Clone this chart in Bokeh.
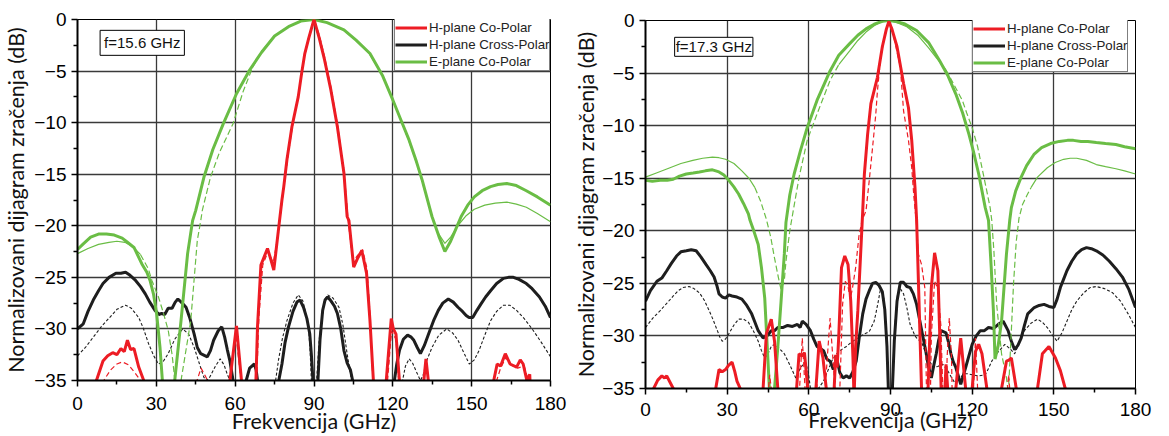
from bokeh.plotting import figure
from bokeh.layouts import row, column
from bokeh.models import Legend, LegendItem, Label, FixedTicker, Range1d
from bokeh.embed import file_html
from bokeh.resources import INLINE

# ---------------- data (angle, dB) ----------------
# Left panel: f = 15.6 GHz
left_e_meas = [(0,-22.3),(2,-21.8),(5,-21.1),(8,-20.8),(11,-20.8),(14,-20.9),(17,-21.2),(19,-21.6),(21.5,-22.1),(24.5,-23.7),(26.4,-24.5),(27.6,-25.3),(28.9,-26.6),(30.1,-28.5),(31.4,-31.8),(32.3,-35),(34.5,-40),(37,-35),(39.4,-29.2),(41.9,-22.7),(43.8,-19.5),(45,-18.5),(48.1,-15.3),(51.5,-12.6),(55.5,-10.1),(60.5,-7.2),(65.5,-4.9),(70,-3.2),(75,-1.6),(80.3,-0.7),(85,-0.15),(90,0),(95,-0.3),(101.4,-1.0),(106,-2.0),(111.3,-3.3),(116,-5.4),(120,-7.8),(123,-9.7),(126.2,-11.7),(129,-13.8),(131.2,-15.6),(134.9,-19.1),(137.5,-21.0),(139.8,-22.5),(142,-21.5),(144,-20.3),(146,-19.1),(148.5,-18.0),(151,-17.2),(154,-16.6),(157.2,-16.2),(160,-16.0),(163.4,-15.9),(167,-16.1),(170.8,-16.6),(175,-17.2),(180,-18.0)]
left_e_sim = [(0,-22.7),(4,-22.2),(8,-21.8),(12,-21.6),(15,-21.5),(18,-21.6),(21,-22.0),(24,-22.8),(27,-24.2),(28.3,-25.3),(30.8,-26.9),(32.5,-28.3),(34.5,-30.1),(36,-32.5),(37.5,-36),(39.4,-35),(41,-32.5),(43.1,-29.2),(45.6,-21.4),(46.9,-19.5),(47.5,-18.5),(50.6,-15.3),(54,-12.9),(59.2,-10.1),(63,-7.0),(66.7,-4.6),(70,-3.1),(75,-1.6),(80,-0.7),(85,-0.15),(90,0),(95,-0.3),(101,-1.0),(106,-2.0),(111,-3.3),(116,-5.4),(120,-7.8),(123,-9.7),(126,-11.7),(129,-13.9),(131.5,-16.0),(134.5,-18.8),(137,-20.6),(139.8,-21.7),(142,-21.1),(145,-19.9),(148,-19.0),(151,-18.4),(155,-18.0),(159,-17.8),(163.4,-17.7),(167,-17.9),(170.8,-18.2),(175,-18.8),(180,-19.6)]
left_hco_meas = [(0,-40),(6,-40),(7.2,-35),(9.7,-33.1),(11.5,-32.6),(13.4,-32.3),(15,-32.5),(16.5,-31.9),(17.8,-32.2),(19,-31.1),(20.2,-32.0),(21.5,-31.9),(23.3,-33.7),(25.2,-35),(26,-40),(56.5,-40),(58,-35),(58.6,-33.7),(60.5,-29.7),(62.4,-35),(63,-40),(67,-40),(67.9,-35),(68.5,-29.8),(69.8,-23.8),(72.3,-22.2),(73.5,-23.2),(74.7,-24.3),(76.6,-20.1),(77.8,-17.5),(78.5,-16.2),(79.7,-13.6),(81.6,-10.4),(84,-7.5),(85.3,-5.2),(86.5,-3.3),(88,-1.8),(90,0),(92,-1.8),(94,-3.9),(96.4,-6.8),(98.9,-10.4),(101.4,-14.9),(102.6,-19.1),(103.3,-19.5),(105.1,-24),(106.5,-23.2),(108.2,-22.4),(110,-24.6),(111.3,-29.2),(112.6,-35),(113.5,-40),(116.5,-40),(117.5,-35),(119.4,-29),(120.2,-30.0),(121.2,-30.5),(122.5,-35),(123.5,-40),(131,-40),(131.8,-35),(132.6,-32.9),(133.5,-35),(134.3,-40),(157.5,-40),(158.4,-35),(159.7,-33.4),(161,-33.6),(162.8,-32.4),(164.6,-33.4),(167.1,-33.7),(168.5,-33.0),(169.6,-33.4),(171,-35),(172.1,-34.4),(173,-40),(180,-40)]
left_hco_sim = [(0,-40),(9,-40),(10,-35),(12.5,-34),(15,-33.4),(17.1,-33.2),(19.5,-33.5),(22,-34.3),(24,-35),(25,-40),(44.5,-40),(45.5,-35),(47,-33.8),(48.5,-34.5),(49.5,-35),(50.5,-40),(57,-40),(58,-35),(60.3,-30.5),(62.2,-35),(63,-40),(67.5,-40),(68.2,-35),(69,-29),(70.5,-23.8),(72.5,-22.5),(74.5,-23.6),(76.6,-20.5),(78,-17.3),(80,-13.4),(82,-10.0),(84.2,-7.2),(85.5,-4.8),(86.8,-3.0),(88.2,-1.5),(90,0),(92,-1.5),(94,-3.6),(96.4,-6.5),(99,-10.3),(101.4,-14.6),(103,-19.5),(104.8,-23.5),(106.5,-22.9),(108.5,-22.3),(110.2,-24.2),(111.4,-29.0),(112.4,-35),(113,-40),(117,-40),(118,-35),(119.5,-30.2),(121.2,-31),(122.2,-35),(123,-40),(158.5,-40),(159.5,-35),(161,-33.8),(163,-32.8),(165,-33.5),(167.5,-33.8),(170,-33.6),(171.5,-35),(172,-40),(180,-40)]
left_hx_meas = [(0,-30.0),(2.2,-29.5),(4,-28.3),(6,-27.2),(8,-26.3),(9.7,-25.6),(12,-25.0),(14.6,-24.6),(16.5,-24.6),(18.3,-24.5),(20,-24.8),(22.1,-25.3),(24,-25.9),(25.8,-26.6),(27.5,-27.4),(29.5,-28.2),(31,-28.6),(32,-28.5),(33.2,-28.6),(34.5,-28.0),(36,-28.0),(37.2,-27.4),(38.2,-27.1),(39.5,-27.4),(41.3,-27.9),(42.8,-29.0),(44.4,-30.5),(45.6,-31.8),(46.9,-32.4),(49.4,-32.7),(50.6,-32.1),(51.8,-31.1),(53.5,-30.2),(54.9,-29.8),(56,-30.8),(57,-32),(58,-33.1),(59.2,-35),(60,-40),(63.5,-40),(64.2,-35),(65.5,-33.8),(67.3,-33.4),(68,-34),(68.5,-35),(69,-40),(75.8,-40),(76.6,-35),(77.8,-33.4),(79,-31.3),(80.3,-29.8),(82,-28.3),(83.5,-27.4),(84.7,-27.2),(86,-27.9),(87.3,-29.0),(88.4,-30.5),(89,-32.5),(89.6,-35),(90.5,-40),(91,-40),(91.5,-35),(92.3,-31),(93.3,-28.2),(94.2,-27.2),(95.2,-26.9),(96.5,-27.3),(97.8,-27.8),(98.9,-28.5),(100.2,-30),(101.4,-32.1),(102.6,-33.3),(103.9,-34),(104.7,-35),(105.5,-40),(119.8,-40),(120.6,-35),(121.5,-33.4),(122.5,-32.1),(124,-31.0),(125.6,-30.6),(127,-30.8),(128,-31.1),(129.3,-31.8),(130.5,-32.4),(132,-31.6),(133.6,-30.5),(135.5,-29.2),(137.3,-28.2),(139,-27.5),(141.1,-27.1),(143,-27.4),(144.8,-27.9),(146.5,-28.3),(147.9,-28.7),(149,-28.9),(150.4,-28.9),(152,-28.2),(153.5,-27.6),(155.3,-26.9),(157.2,-26.3),(159.5,-25.6),(162.1,-25.1),(164,-25.0),(165.9,-25.0),(168,-25.2),(170.8,-25.6),(173,-26.1),(175.8,-26.9),(178,-27.8),(180,-28.9)]
left_hx_sim = [(0,-32.6),(3,-31.8),(6,-30.8),(9,-29.8),(12.2,-28.9),(15,-28.1),(18.3,-27.7),(20.5,-28.0),(23.3,-28.9),(25,-29.9),(27,-31.4),(29,-32.6),(30.8,-33.4),(32.5,-33.2),(34.5,-32.4),(37,-31.0),(40,-30.0),(42.3,-30.5),(44.4,-31.8),(46.3,-33.3),(48.1,-34.7),(49.2,-35),(50.5,-34.6),(52.5,-33.6),(54.3,-32.9),(55.8,-33.5),(57,-34.4),(58,-35),(58.8,-40),(74.5,-40),(75.4,-35),(76.5,-33),(78,-30.9),(79.7,-29.2),(82,-27.5),(84,-26.7),(85.8,-27.3),(87.8,-29.5),(88.5,-32),(89,-35),(89.5,-40),(90.5,-40),(91,-35),(92,-31),(94,-27.2),(95.2,-26.7),(97.2,-27.0),(99.5,-27.9),(101,-29.6),(102.6,-32.4),(104.3,-35),(105,-40),(123,-40),(123.7,-35),(124.8,-33.6),(126.2,-32.9),(127.5,-33.3),(128.7,-34),(130.5,-35),(131.5,-34.5),(133,-33),(134.9,-31.8),(137.5,-30.6),(140.5,-30.0),(142.8,-30.4),(144.8,-31.1),(147,-32.3),(149.1,-33.4),(151,-33.0),(152.8,-32.1),(155,-30.6),(157.2,-29.2),(159.5,-28.3),(162.1,-27.7),(164.5,-27.7),(167.1,-28.2),(170,-29.0),(173.3,-30.1),(176.5,-31.3),(180,-32.7)]

# Right panel: f = 17.3 GHz
right_e_meas = [(0,-15.2),(2.5,-15.3),(5.4,-15.2),(8,-15.2),(10.2,-15.1),(12.5,-14.8),(15,-14.6),(17.5,-14.5),(19.8,-14.4),(22,-14.3),(24.6,-14.2),(27,-14.4),(28.8,-14.7),(30.6,-15.2),(32.4,-15.8),(34.2,-16.5),(36,-17.4),(37.8,-18.4),(38.4,-19.0),(39.9,-20.1),(41.4,-21.3),(42.6,-23.5),(43.8,-26.4),(45,-32.4),(45.5,-35),(46,-40),(47,-40),(47.4,-35),(48.6,-31.1),(49.8,-26.7),(51,-22.2),(51.6,-19.2),(53,-16.6),(54.6,-14.6),(57,-12.3),(59.4,-10.2),(63,-7.6),(67.8,-4.8),(71,-3.3),(75,-2.2),(78,-1.4),(81,-0.8),(84,-0.35),(87,-0.07),(89.4,0),(92,-0.1),(95,-0.3),(99.6,-0.95),(104,-2.1),(108,-3.8),(111,-5.2),(114,-7.0),(116.5,-8.8),(118.8,-10.8),(120.6,-12.6),(122.4,-14.6),(124.8,-17.8),(126,-19.0),(127,-23.5),(127.8,-27.6),(128.4,-32.2),(129.5,-31),(130.8,-28.6),(132.6,-22.2),(133.8,-19.0),(134.4,-17.8),(136,-16.2),(138,-14.9),(140,-13.8),(142.8,-12.7),(145.5,-12.1),(148.8,-11.7),(152,-11.5),(155,-11.4),(157.2,-11.4),(160,-11.5),(162.5,-11.5),(165.6,-11.6),(169,-11.7),(172.8,-11.8),(176,-12.0),(180,-12.2)]
right_e_sim = [(0,-14.9),(4,-14.5),(9,-14.0),(13,-13.6),(17.4,-13.3),(21,-13.1),(24.6,-13.0),(27,-13.05),(29.4,-13.2),(32.5,-13.6),(35.4,-14.3),(38,-15.0),(40.2,-15.9),(42.3,-17.2),(44.4,-18.9),(46,-20.6),(47.4,-22.6),(48.7,-24.3),(49.8,-25.6),(51,-24.7),(51.6,-22.9),(53,-20.0),(54.6,-17.6),(56.5,-14.8),(59.4,-11.4),(63,-8.9),(67.8,-5.7),(71,-4.2),(75,-2.9),(78,-1.9),(81,-1.1),(84,-0.5),(87,-0.1),(89.4,0),(92,-0.15),(96,-0.6),(100,-1.4),(104,-2.6),(107,-3.6),(110.4,-4.7),(113.5,-6.2),(116.4,-7.6),(118,-8.8),(120,-10.2),(122,-12.0),(123.6,-14.0),(125.2,-16.0),(126.6,-17.8),(127.2,-19.0),(128,-22),(129,-27),(130.8,-31.7),(132.6,-34.0),(133.3,-35.5),(134.3,-30),(135.2,-25),(136.2,-21),(137.2,-18.8),(138.5,-17.5),(140,-16.7),(141.6,-15.9),(144,-14.9),(147.6,-14.0),(150.5,-13.5),(153.6,-13.2),(156,-13.1),(158.4,-13.1),(162,-13.3),(165.6,-13.7),(169,-13.9),(172.8,-14.1),(176,-14.3),(180,-14.6)]
right_hco_meas = [(0,-40),(2.5,-40),(3,-35),(4.5,-34.2),(6,-33.8),(7,-34.0),(7.8,-33.8),(9,-34.4),(10.2,-35),(11,-40),(25,-40),(25.8,-35),(27,-33.2),(28.2,-33.4),(29.4,-33.2),(30.5,-32.8),(31.8,-32.5),(32.8,-33.4),(33.6,-34.3),(34.8,-35),(35.5,-40),(42.2,-40),(43.2,-35),(44.4,-29.8),(46.2,-28.4),(47.4,-30.5),(48.6,-35),(49.2,-40),(54.8,-40),(55.5,-35),(56.4,-31.7),(57.4,-31.9),(58.4,-31.6),(59.6,-35),(60.2,-40),(62,-40),(62.6,-35),(63.8,-30.5),(65.2,-32.1),(66.4,-35),(67,-40),(68.8,-40),(69.3,-35),(69.9,-31.8),(70.4,-33),(71,-30),(72,-23.5),(73.2,-22.4),(74.4,-23.2),(75.4,-26.7),(76.2,-32),(76.6,-36),(77.2,-31),(78,-27.6),(79.2,-21.3),(79.8,-18.1),(80.4,-14.6),(81.6,-10.8),(82.8,-7.9),(85.2,-5.4),(87,-2.5),(88.5,-0.8),(89.4,-0.1),(90.5,-0.8),(92.4,-2.5),(94.8,-6),(96.6,-8.3),(97.8,-11.4),(99,-15.9),(99.6,-19),(100.5,-27),(101.4,-35),(102,-40),(103.2,-40),(103.8,-35),(105,-25.4),(106.2,-22.1),(107.4,-23.8),(108.1,-30),(108.6,-35),(109.2,-40),(109.6,-40),(110,-35),(110.4,-32.7),(111,-35),(111.5,-40),(113.5,-40),(114,-35),(115.8,-30.2),(117.6,-35),(118,-40),(119.5,-40),(120,-35),(121.2,-31.5),(122.4,-30.8),(123.6,-31.7),(125.4,-35),(126,-40),(130.2,-40),(130.8,-35),(132.6,-32.4),(133.5,-32.3),(134.4,-32.1),(136.2,-35),(136.8,-40),(143.4,-40),(144,-35),(145.8,-31.7),(148.2,-31.0),(150.6,-32.1),(152.4,-33.3),(154.2,-35),(155,-40),(180,-40)]
right_hco_sim = [(0,-40),(44.8,-40),(45.2,-35),(45.6,-33.7),(46.2,-35),(46.6,-40),(56.2,-40),(56.6,-35),(57.6,-30.2),(58.6,-35),(59,-40),(62.6,-40),(63,-34.6),(63.4,-40),(65.6,-40),(66,-35),(67.8,-28.3),(69.6,-35),(70,-40),(71,-40),(71.4,-35),(72.4,-27),(73.4,-24.8),(74.4,-25.3),(75.2,-26.5),(76,-25.5),(77.2,-23.5),(78.4,-20.5),(79.6,-19),(81,-18.1),(82.2,-15.2),(83.4,-12.1),(84.6,-8.9),(85.2,-6.7),(86.4,-3.5),(88,-1.3),(89.4,0),(91,-1.3),(92.4,-3.0),(93.6,-4.4),(94.8,-8.6),(96.6,-11.4),(97.8,-14),(98.6,-16.8),(99.6,-19.5),(100.2,-22.2),(101.4,-23.2),(102.6,-25.4),(103.2,-35),(103.8,-40),(104.4,-40),(105,-30),(106.2,-24.8),(107.4,-25.5),(108.5,-29),(109.2,-35),(109.6,-40),(110.2,-40),(110.8,-32),(111.6,-28.3),(112.4,-32),(113,-40),(120,-40),(120.5,-35),(121.2,-30.2),(122,-35),(122.4,-40),(132.6,-40),(133,-35),(133.4,-33.7),(133.8,-35),(134.2,-40),(180,-40)]
right_hx_meas = [(0,-26.7),(1.8,-25.7),(4.2,-24.8),(6,-24.5),(7.8,-23.8),(9.5,-23.1),(11.4,-22.4),(13,-22.0),(15,-21.9),(16.8,-21.8),(18.6,-21.9),(20.4,-22.5),(22.2,-23.2),(23.8,-23.8),(25.2,-24.4),(26.2,-25.2),(27,-26.0),(28.2,-26.3),(29.4,-26.4),(30.6,-26.1),(31.8,-26.2),(33.6,-26.3),(35.4,-26.5),(37.2,-27.1),(39,-27.9),(40.2,-28.7),(41.4,-29.5),(43.2,-30.2),(44.6,-30.0),(46.2,-29.5),(47.4,-29.5),(48.6,-29.2),(50.4,-29.2),(52.2,-29.0),(54,-29.1),(55.8,-28.9),(56.8,-29.2),(57.6,-28.6),(59,-28.9),(60.6,-29.5),(61.8,-30.3),(63,-31),(64.2,-31.2),(65.4,-31.4),(66.6,-32.2),(67.8,-32.4),(69,-33.2),(70.2,-32.1),(71.4,-33.5),(72.6,-34),(73.8,-33.8),(75,-34),(76.2,-33.4),(77.4,-32.4),(78.6,-30),(79.8,-27.9),(81,-26.5),(82.2,-25.7),(83.4,-25.0),(84.6,-24.9),(85.8,-25.2),(87,-25.8),(87.9,-27.5),(88.7,-31),(89.2,-35),(89.6,-40),(90.3,-40),(90.7,-35),(91.4,-30.5),(92.4,-26.7),(93.6,-24.9),(94.8,-24.9),(96,-25.3),(97.2,-25.4),(98.4,-26.0),(99.6,-27),(100.8,-28.6),(102,-30.2),(103,-31.5),(103.8,-32.7),(105,-34),(105.9,-32.8),(106.8,-31.7),(107.7,-30.4),(108.6,-29.5),(110.4,-29.7),(111.3,-30.6),(112.2,-31.7),(113.1,-32.5),(114,-33),(115.8,-34.6),(116.7,-33.8),(117.6,-33),(118.8,-31.9),(120,-30.8),(121.5,-30.0),(123,-29.5),(124.5,-29.5),(126,-29.2),(127.8,-29.3),(129.6,-28.9),(131.4,-28.6),(133.2,-29.5),(134.4,-30.5),(135.6,-31.3),(136.8,-30.9),(138,-30.2),(139.2,-29.0),(140.4,-27.9),(142.8,-27.3),(144.6,-27.1),(146.4,-27.0),(148.2,-27.2),(150,-27.3),(151.2,-26.5),(152.4,-25.4),(153.6,-24.6),(154.8,-23.8),(156.6,-22.9),(158.4,-22.2),(160.2,-21.8),(162,-21.6),(163.8,-21.7),(165.6,-21.9),(168,-22.3),(170.4,-22.9),(172.8,-23.6),(175.2,-24.4),(177.6,-25.6),(180,-27.3)]
right_hx_sim = [(0,-29.2),(2.7,-28.3),(5.4,-27.6),(7.8,-26.9),(10.2,-26.2),(12,-25.7),(13.8,-25.4),(16,-25.3),(17.8,-25.5),(19.8,-25.9),(21.6,-26.6),(23.4,-27.6),(24.9,-28.5),(26.4,-29.5),(27.3,-30.1),(28.2,-30.5),(29.4,-30.3),(30.6,-29.8),(32.4,-29.0),(34.2,-28.4),(36,-28.4),(37.8,-28.7),(39.6,-29.5),(41.4,-30.5),(42.6,-31.4),(43.8,-32.1),(45,-31.7),(46.2,-31.0),(47.4,-30.8),(49.2,-31.2),(51,-31.7),(53.1,-32.8),(55.2,-34.0),(57,-33.0),(58.8,-32.5),(59.8,-33.5),(60.6,-35),(61.5,-36),(63.5,-35),(65.4,-34.3),(67,-33.3),(68.6,-32.3),(70.2,-31.7),(72,-31.3),(73.8,-31.0),(75.6,-30.6),(78,-30.2),(80.4,-29.8),(82.2,-29.6),(84,-28.6),(84.6,-27.9),(85.6,-26.6),(86.4,-25.4),(87.6,-26.5),(88.6,-30),(89.3,-35),(89.7,-40),(90.3,-40),(90.8,-35),(91.6,-29),(92.6,-26),(93.6,-25.5),(94.8,-26),(96,-27.3),(97.2,-28.9),(99,-30.0),(99.6,-30.2),(101.4,-30.6),(103.2,-31.8),(105.6,-33.0),(107.4,-32.9),(109.2,-32.7),(111,-33.3),(112.5,-34),(114,-34.6),(115.5,-34),(117,-33.6),(118.5,-33.6),(120,-33.7),(122.4,-33.8),(124.8,-33.7),(126,-33.1),(127.2,-32.4),(129.6,-31.5),(132,-30.8),(133.8,-31.2),(135.6,-31.7),(137.4,-30.6),(139.2,-29.5),(141.6,-28.8),(144,-28.4),(145.8,-28.7),(147.6,-29.2),(149.4,-29.9),(151.2,-30.5),(153,-29.7),(154.8,-28.6),(156.6,-27.5),(158.4,-26.7),(161,-25.9),(163.3,-25.4),(165.6,-25.3),(168.6,-25.5),(171.6,-25.9),(174.5,-26.7),(177.3,-27.9),(180,-29.2)]

x_ticks = [0, 30, 60, 90, 120, 150, 180]
x_minor = [15, 45, 75, 105, 135, 165]
y_ticks = [-35, -30, -25, -20, -15, -10, -5, 0]
y_minor = [-32.5, -27.5, -22.5, -17.5, -12.5, -7.5, -2.5]
legend_labels = ["H-plane Co-Polar", "H-plane Cross-Polar", "E-plane Co-Polar"]
freq_labels = ["f=15.6 GHz", "f=17.3 GHz"]
x_title = "Frekvencija (GHz)"
y_title = "Normalizovani dijagram zračenja (dB)"

RED = "#ed1c24"
BLACK = "#1e1e1e"
GREEN = "#6abd45"
TICK_FONT = "Liberation Sans"
TITLE_FONT = "Lato"
LEG_ROW = 17
STEEP = 0.45   # dB per degree: steeper parts of the thin green curve are drawn dashed


def xy(pairs):
    return [a for a, _ in pairs], [b for _, b in pairs]


def runs_by_slope(pairs, thresh):
    runs = []
    for i in range(len(pairs) - 1):
        (x0, y0), (x1, y1) = pairs[i], pairs[i + 1]
        steep = abs(y1 - y0) / max(x1 - x0, 1e-6) > thresh
        if runs and runs[-1][0] == steep:
            runs[-1][1].append(pairs[i + 1])
        else:
            runs.append((steep, [pairs[i], pairs[i + 1]]))
    return runs


def panel(width, height, bl, br, bt, bb, series, flabel, fx, fy, fpad, leg_x,
          xt_standoff, xl_standoff, yl_standoff):
    p = figure(width=width, height=height, x_range=Range1d(0, 180), y_range=Range1d(-35, 0),
               output_backend="svg", toolbar_location=None,
               min_border_left=bl, min_border_right=br, min_border_top=bt, min_border_bottom=bb)
    p.background_fill_color = "white"
    p.border_fill_color = "white"
    p.outline_line_color = "black"
    p.outline_line_width = 1

    p.xaxis.ticker = FixedTicker(ticks=x_ticks, minor_ticks=x_minor)
    p.yaxis.ticker = FixedTicker(ticks=y_ticks, minor_ticks=y_minor)
    p.xgrid.ticker = FixedTicker(ticks=x_ticks[1:-1])
    p.ygrid.ticker = FixedTicker(ticks=y_ticks[1:-1])
    for g in (p.xgrid, p.ygrid):
        g.grid_line_color = "#3a3a3a"
        g.grid_line_width = 1.3
    for ax in (p.xaxis, p.yaxis):
        ax.axis_line_width = 2
        ax.axis_line_color = "black"
        ax.major_tick_line_width = 1.5
        ax.minor_tick_line_width = 1.5
        ax.major_tick_out = 6
        ax.major_tick_in = 0
        ax.minor_tick_out = 4
        ax.minor_tick_in = 0
        ax.major_label_text_font = TICK_FONT
        ax.major_label_text_font_size = "19px"
        ax.major_label_text_color = "black"
        ax.axis_label_text_font = TITLE_FONT
        ax.axis_label_text_font_size = "21.5px"
        ax.axis_label_text_font_style = "normal"
        ax.axis_label_text_color = "#111111"
    p.xaxis.axis_label = x_title
    p.yaxis.axis_label = y_title
    p.xaxis.major_label_standoff = xt_standoff
    p.xaxis.axis_label_standoff = xl_standoff
    p.yaxis.major_label_standoff = 5
    p.yaxis.axis_label_standoff = yl_standoff

    (hxm, hxs, em, es, hcm, hcs) = series
    x, y = xy(hxm); r_hx = p.line(x, y, color=BLACK, line_width=3)
    x, y = xy(hxs); p.line(x, y, color=BLACK, line_width=1.1, line_dash="3 2")
    x, y = xy(em); r_e = p.line(x, y, color=GREEN, line_width=3)
    for steep, run in runs_by_slope(es, STEEP):
        x, y = xy(run)
        if steep:
            p.line(x, y, color=GREEN, line_width=1.2, line_dash="6 3")
        else:
            p.line(x, y, color=GREEN, line_width=1.2)
    x, y = xy(hcm); r_hc = p.line(x, y, color=RED, line_width=3)
    x, y = xy(hcs); p.line(x, y, color=RED, line_width=1.2, line_dash="5 3")

    leg = Legend(items=[LegendItem(label=legend_labels[0], renderers=[r_hc]),
                        LegendItem(label=legend_labels[1], renderers=[r_hx]),
                        LegendItem(label=legend_labels[2], renderers=[r_e])],
                 location="top_left", orientation="vertical",
                 label_text_font=TICK_FONT, label_text_font_size="13.3px",
                 label_text_color="#222222",
                 glyph_width=32, glyph_height=LEG_ROW, label_height=LEG_ROW, label_standoff=2,
                 spacing=0, padding=0, margin=0,
                 border_line_color="black", border_line_width=1,
                 background_fill_color="white", background_fill_alpha=1.0)
    leg.location = (leg_x, height - bt - bb - 3 * LEG_ROW - 1)
    p.add_layout(leg)

    lab = Label(x=fx, y=fy, x_units="data", y_units="data", text=flabel,
                text_font=TICK_FONT, text_font_size="15px", text_color="#111111",
                text_align="left", text_baseline="top",
                border_line_color="black", border_line_width=1,
                background_fill_color="white", padding=fpad)
    p.add_layout(lab)
    return p


p1 = panel(570, 436, 66, 20, 19, 56,
           (left_hx_meas, left_hx_sim, left_e_meas, left_e_sim, left_hco_meas, left_hco_sim),
           freq_labels[0], 8.6, -1.05, 4, 317, 10, -5, 2)
p2 = panel(583, 436, 65, 18, 20, 48,
           (right_hx_meas, right_hx_sim, right_e_meas, right_e_sim, right_hco_meas, right_hco_sim),
           freq_labels[1], 10.7, -1.6, 1, 327, 8, -12, 0)

layout = row(column(p1), column(p2))
open("out.html", "w").write(file_html(layout, INLINE))
